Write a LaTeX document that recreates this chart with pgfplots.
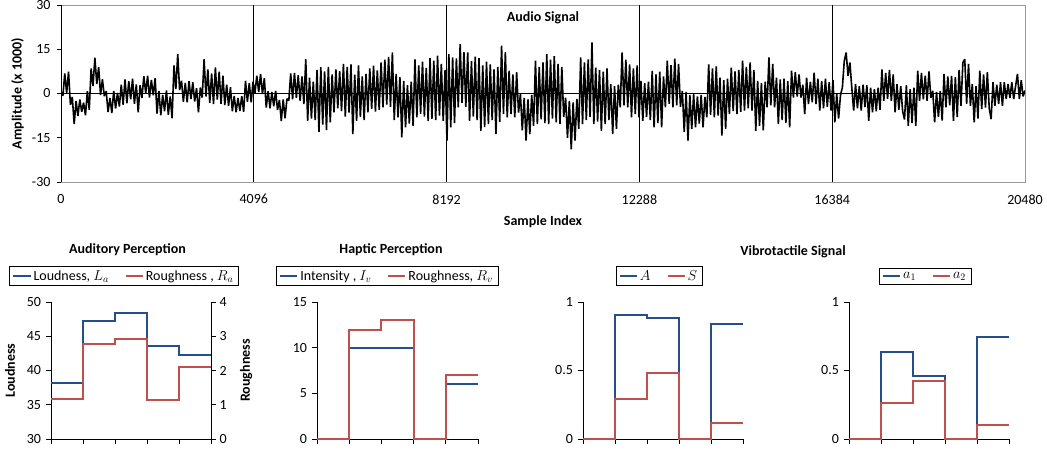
\documentclass[border=0pt]{standalone}
\usepackage{fontspec}
\setmainfont{Carlito}
\usepackage{pgfplots}
\pgfplotsset{compat=1.18}
\usepackage{pgfplotstable}

\definecolor{serA}{HTML}{254E8C}
\definecolor{serB}{HTML}{C0504D}

% audio waveform, amplitude in thousands
\pgfplotstableread{
x y
0 0.5
40 -0.8
80 6.8
120 0.2
160 7.4
200 -3.8
240 -1.2
280 -10.4
320 -2.5
360 -7.6
400 -2.0
440 -6.2
480 -3.1
520 -7.4
560 0.8
600 -5.5
640 8.5
680 2.5
720 12.1
760 3.2
800 9.0
840 -0.5
880 4.8
920 -0.9
960 0.8
1000 -6.3
1040 -1.5
1080 -6.6
1120 0.9
1160 -5.1
1200 0.2
1240 -4.4
1280 3.0
1320 -3.8
1360 4.8
1400 -3.3
1440 4.2
1480 -2.0
1520 5.0
1560 -3.5
1600 3.1
1640 -6.4
1680 2.8
1720 -1.5
1760 5.9
1800 0.1
1840 6.0
1880 -1.4
1920 4.6
1960 -0.6
2000 5.2
2040 -6.8
2080 0.9
2120 -7.4
2160 -0.5
2200 -6.0
2240 1.0
2280 -7.2
2320 -1.0
2360 -8.4
2400 9.5
2440 1.5
2480 13.3
2520 1.2
2560 4.3
2600 -2.8
2640 3.6
2680 -3.0
2720 4.2
2760 -1.9
2800 3.8
2840 -2.7
2880 1.8
2920 -6.4
2960 2.0
3000 -1.4
3040 11.6
3080 -1.0
3120 8.2
3160 -3.2
3200 6.8
3240 -3.6
3280 8.8
3320 -2.1
3360 7.4
3400 -3.5
3440 6.0
3480 -3.9
3520 3.0
3560 -4.2
3600 2.1
3640 -6.0
3680 -0.8
3720 -6.4
3760 -1.5
3800 -5.9
3840 -0.9
3880 -6.2
3920 4.3
3960 -2.8
4000 3.5
4040 -3.0
4080 4.0
4120 0.2
4160 6.0
4200 0.5
4240 6.6
4280 -0.2
4320 5.2
4360 -4.8
4400 0.8
4440 -5.0
4480 0.5
4520 -4.3
4560 0.9
4600 -5.6
4640 -2.2
4680 -9.3
4720 -2.0
4760 -8.4
4800 -1.8
4840 -2.4
4880 6.8
4920 -2.0
4960 7.0
5000 -1.5
5040 6.2
5080 -2.5
5120 5.8
5160 -3.6
5200 11.6
5240 -9.3
5280 5.4
5320 -8.5
5360 4.0
5400 -9.0
5440 8.0
5480 -13.0
5520 8.9
5560 -10.5
5600 7.5
5640 -12.4
5680 9.0
5720 -9.8
5760 6.5
5800 -6.4
5840 8.2
5880 -5.0
5920 7.6
5960 -6.0
6000 10.0
6040 -7.8
6080 9.0
6120 -6.5
6160 9.9
6200 -13.8
6240 6.4
6280 -9.3
6320 9.5
6360 -8.0
6400 5.8
6440 -9.0
6480 6.6
6520 -6.4
6560 8.5
6600 -5.2
6640 9.4
6680 -6.1
6720 7.8
6760 -5.5
6800 10.5
6840 -4.7
6880 11.5
6920 -3.8
6960 12.4
7000 -4.5
7040 13.9
7080 -9.0
7120 6.6
7160 -8.1
7200 5.5
7240 -14.9
7280 4.3
7320 -11.5
7360 2.8
7400 -10.2
7440 4.0
7480 -11.0
7520 11.6
7560 -8.1
7600 9.5
7640 -6.9
7680 10.8
7720 -7.8
7760 8.7
7800 -9.3
7840 12.0
7880 -8.6
7920 11.1
7960 -9.0
8000 12.8
8040 -7.5
8080 10.0
8120 -9.3
8160 8.0
8200 -16.0
8240 13.3
8280 -11.5
8320 12.2
8360 -10.0
8400 11.9
8440 -4.7
8480 16.7
8520 -3.2
8560 14.0
8600 -4.5
8640 13.9
8680 -9.3
8720 11.0
8760 -7.8
8800 12.5
8840 -9.0
8880 12.0
8920 -12.7
8960 9.5
9000 -11.4
9040 10.8
9080 -10.4
9120 9.9
9160 -9.0
9200 8.2
9240 -13.8
9280 9.0
9320 -9.6
9360 16.2
9400 -7.0
9440 14.0
9480 -8.1
9520 7.7
9560 -7.0
9600 6.5
9640 -8.1
9680 7.2
9720 -6.5
9760 -0.2
9800 -12.5
9840 -1.5
9880 -16.0
9920 -2.0
9960 -13.8
10000 -0.5
10040 -11.0
10080 11.1
10120 -10.4
10160 9.0
10200 -8.8
10240 10.5
10280 -10.0
10320 13.3
10360 -10.4
10400 11.5
10440 -8.5
10480 12.7
10520 -9.8
10560 10.0
10600 -10.4
10640 9.0
10680 -8.0
10720 -1.4
10760 -15.0
10800 -2.5
10840 -18.9
10880 -3.0
10920 -16.0
10960 -1.8
11000 -12.0
11040 12.2
11080 -10.4
11120 10.5
11160 -9.0
11200 11.6
11240 -8.0
11280 17.3
11320 -10.4
11360 8.8
11400 -9.5
11440 8.0
11480 -12.7
11520 7.4
11560 -10.4
11600 8.5
11640 -9.0
11680 3.2
11720 -13.8
11760 2.5
11800 -12.0
11840 3.0
11880 -4.7
11920 13.9
11960 -4.0
12000 11.5
12040 -4.7
12080 9.9
12120 -8.1
12160 8.5
12200 -7.0
12240 9.5
12280 -8.1
12320 4.3
12360 -9.3
12400 3.5
12440 -8.0
12480 4.0
12520 -9.0
12560 7.7
12600 -11.5
12640 6.5
12680 -10.0
12720 7.4
12760 -11.5
12800 5.8
12840 -4.7
12880 11.1
12920 -3.5
12960 9.6
13000 -4.7
13040 11.8
13080 -4.0
13120 10.0
13160 -4.5
13200 0.9
13240 -13.0
13280 0.5
13320 -16.0
13360 -0.5
13400 -12.0
13440 -0.2
13480 -11.5
13520 -1.0
13560 -10.2
13600 -0.5
13640 -11.5
13680 -1.2
13720 -8.1
13760 9.9
13800 -7.2
13840 8.5
13880 -8.1
13920 9.2
13960 -7.5
14000 5.4
14040 -14.3
14080 4.5
14120 -12.0
14160 5.0
14200 -7.0
14240 8.8
14280 -6.0
14320 7.5
14360 -7.0
14400 8.0
14440 -6.2
14480 11.1
14520 -5.8
14560 9.0
14600 -5.0
14640 10.5
14680 -5.8
14720 8.0
14760 -12.7
14800 4.3
14840 -11.0
14880 3.5
14920 -12.5
14960 4.0
15000 -4.7
15040 12.2
15080 -4.0
15120 10.0
15160 -4.7
15200 5.4
15240 -10.4
15280 4.8
15320 -9.0
15360 5.0
15400 -10.0
15440 4.2
15480 -11.5
15520 7.7
15560 -1.4
15600 7.2
15640 -1.0
15680 6.5
15720 -1.4
15760 3.0
15800 -7.0
15840 5.4
15880 -3.6
15920 4.0
15960 -3.0
16000 7.1
16040 -3.6
16080 5.0
16120 -5.8
16160 4.2
16200 -5.0
16240 5.0
16280 -4.5
16320 3.8
16360 -5.8
16400 4.6
16440 -9.8
16480 -0.2
16520 -8.5
16560 -0.5
16600 2.0
16640 11.0
16680 13.9
16720 6.0
16760 10.5
16800 2.0
16840 -5.8
16880 3.2
16920 -5.0
16960 2.5
17000 -5.8
17040 3.0
17080 -4.6
17120 2.8
17160 -9.3
17200 2.0
17240 -6.4
17280 1.5
17320 -6.0
17360 2.0
17400 -5.5
17440 8.2
17480 -2.5
17520 7.0
17560 -1.8
17600 8.0
17640 -2.5
17680 6.5
17720 -6.4
17760 3.2
17800 -5.5
17840 2.5
17880 -6.0
17920 -8.8
17960 2.8
18000 -11.0
18040 1.5
18080 -10.0
18120 2.0
18160 -11.0
18200 7.7
18240 -2.5
18280 7.0
18320 -2.0
18360 6.0
18400 -2.5
18440 7.5
18480 -1.5
18520 0.9
18560 -9.8
18600 0.5
18640 -8.0
18680 0.8
18720 -9.2
18760 6.6
18800 -4.7
18840 5.8
18880 -4.0
18920 6.0
18960 -9.3
19000 5.5
19040 -8.0
19080 8.0
19120 -4.2
19160 10.5
19200 11.6
19240 -3.5
19280 10.0
19320 -4.2
19360 3.2
19400 -9.8
19440 2.5
19480 -8.5
19520 7.7
19560 -5.3
19600 6.5
19640 -4.8
19680 7.2
19720 -5.0
19760 -8.7
19800 3.8
19840 -4.2
19880 3.0
19920 -3.5
19960 3.8
20000 -4.2
20040 3.8
20080 -1.9
20120 3.2
20160 -1.5
20200 3.8
20240 -1.9
20280 2.5
20320 6.6
20360 -1.9
20400 4.5
20440 -1.0
20480 1.0
}\audio

\pgfplotsset{
  panel/.style={
    scale only axis, width=160pt, height=137pt, anchor=south west,
    xmin=0, xmax=5, xtick={0,1,2,3,4,5}, xticklabels={},
    axis x line*=bottom, axis y line*=left,
    axis line style={black, line width=0.8pt, -},
    tick style={black, line width=0.8pt}, tick align=outside,
    major tick length=5pt, clip=false,
    yticklabel style={xshift=-1.5pt},
    ylabel style={font=\fontsize{14}{17}\selectfont\bfseries},
    legend columns=2, legend cell align=left,
    legend style={draw=black, line width=0.6pt, fill=white, anchor=center,
      font=\fontsize{14}{17}\selectfont, inner ysep=2pt,
      /tikz/every even column/.append style={column sep=14pt}},
  },
  stepline/.style={const plot, line width=2pt, no marks},
}

\begin{document}
\begin{tikzpicture}[font=\fontsize{14}{17}\selectfont]
\path[use as bounding box] (0pt,0pt) rectangle (1047pt,450pt);

% ---------- audio signal ----------
\begin{axis}[
  at={(61pt,268pt)}, anchor=south west, scale only axis,
  width=964pt, height=177pt,
  xmin=0, xmax=20480, ymin=-30, ymax=30,
  scaled x ticks=false, scaled y ticks=false,
  xtick={0,4096,8192,12288,16384,20480},
  xticklabels={0,4096,8192,12288,16384,20480},
  ytick={-30,-15,0,15,30}, yticklabels={-30,-15,0,15,30},
  ytick pos=left, tick align=outside, major tick length=4pt,
  xtick style={draw=none}, ytick style={black, line width=0.8pt},
  xticklabel style={yshift=-5pt}, yticklabel style={xshift=-3pt},
  axis line style={gray!80, line width=0.8pt},
  extra x ticks={4096,8192,12288,16384}, extra x tick labels={},
  extra x tick style={grid=major, major grid style={black, line width=1pt}},
  title={Audio Signal},
  title style={font=\fontsize{14}{17}\selectfont\bfseries, at={(0.5,1)}, anchor=center, yshift=-19pt},
  xlabel={Sample Index}, ylabel={Amplitude (x 1000)},
  xlabel style={font=\fontsize{14}{17}\selectfont\bfseries, at={(axis description cs:0.5,-0.226)}, anchor=center},
  ylabel style={font=\fontsize{14}{17}\selectfont\bfseries, at={(axis description cs:-0.0451,0.5)}, anchor=center},
]
\draw[black, line width=1pt] (rel axis cs:0,0) -- (rel axis cs:0,1);
\draw[black, line width=1pt] (axis cs:0,0) -- (axis cs:20480,0);
\addplot[black, line width=1.6pt, no marks, line join=miter, miter limit=2] table[x=x, y=y] {\audio};
\end{axis}

% ---------- auditory perception ----------
\begin{axis}[panel, at={(51pt,11pt)},
  ymin=30, ymax=50, ytick={30,35,40,45,50}, yticklabels={30,35,40,45,50},
  ylabel={Loudness}, ylabel style={at={(axis description cs:-0.256,0.5)}, anchor=center},
  legend style={at={(axis description cs:0.456,1.19)}},
]
\addplot[stepline, serA] coordinates {(0,38.2) (1,47.2) (2,48.4) (3,43.6) (4,42.2) (5,42.2)};
\addlegendentry{Loudness, $L_a$}
\addlegendimage{serB, line width=2pt}
\addlegendentry{Roughness , $R_a$}
\end{axis}
\begin{axis}[panel, at={(51pt,11pt)},
  axis x line=none, axis y line*=right,
  yticklabel style={xshift=1.5pt},
  ymin=0, ymax=4, ytick={0,1,2,3,4}, yticklabels={0,1,2,3,4},
  ylabel={Roughness}, ylabel style={at={(axis description cs:1.219,0.5)}, anchor=center},
]
\addplot[stepline, serB] coordinates {(0,1.18) (1,2.76) (2,2.91) (3,1.15) (4,2.09) (5,2.09)};
\end{axis}

% ---------- haptic perception ----------
\begin{axis}[panel, at={(317pt,11pt)}, width=161pt,
  ymin=0, ymax=15, ytick={0,5,10,15}, yticklabels={0,5,10,15},
  legend style={at={(axis description cs:0.435,1.19)}},
]
\addplot[stepline, serA] coordinates {(0,0) (1,10) (2,10) (3,0) (4,6) (5,6)};
\addlegendentry{Intensity , $I_v$}
\addplot[stepline, serB] coordinates {(0,0) (1,11.9) (2,13) (3,0) (4,7) (5,7)};
\addlegendentry{Roughness, $R_v$}
\end{axis}

% ---------- vibrotactile signal ----------
\begin{axis}[panel, at={(583pt,11pt)},
  ymin=0, ymax=1, ytick={0,0.5,1}, yticklabels={0,0.5,1},
  legend style={at={(axis description cs:0.475,1.19)}},
]
\addplot[stepline, serA] coordinates {(0,0) (1,0.903) (2,0.884) (3,0) (4,0.843) (5,0.843)};
\addlegendentry{$A$}
\addplot[stepline, serB] coordinates {(0,0) (1,0.293) (2,0.480) (3,0) (4,0.118) (5,0.118)};
\addlegendentry{$S$}
\end{axis}

\begin{axis}[panel, at={(849pt,11pt)},
  ymin=0, ymax=1, ytick={0,0.5,1}, yticklabels={0,0.5,1},
  legend style={at={(axis description cs:0.475,1.19)}},
]
\addplot[stepline, serA] coordinates {(0,0) (1,0.637) (2,0.458) (3,0) (4,0.743) (5,0.743)};
\addlegendentry{$a_1$}
\addplot[stepline, serB] coordinates {(0,0) (1,0.262) (2,0.424) (3,0) (4,0.099) (5,0.099)};
\addlegendentry{$a_2$}
\end{axis}

\node[font=\fontsize{14}{17}\selectfont\bfseries] at (127.5pt,200pt) {Auditory Perception};
\node[font=\fontsize{14}{17}\selectfont\bfseries] at (391pt,200pt) {Haptic Perception};
\node[font=\fontsize{14}{17}\selectfont\bfseries] at (793pt,198.5pt) {Vibrotactile Signal};
\end{tikzpicture}
\end{document}
